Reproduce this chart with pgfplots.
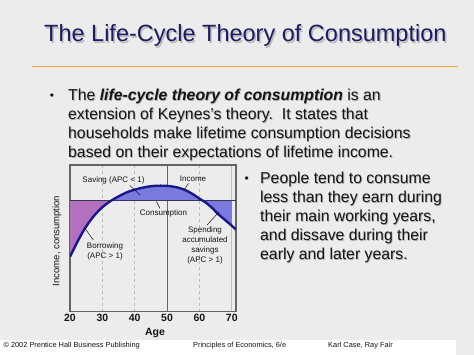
\documentclass[border=0pt]{standalone}
\usepackage{fontspec}
\setmainfont{Liberation Sans}
\usepackage{xcolor}
\usepackage{pgfplots}
\pgfplotsset{compat=1.18}
\usepgfplotslibrary{fillbetween}
\definecolor{bg}{RGB}{236,236,236}
\definecolor{titlec}{RGB}{28,28,100}
\definecolor{orangeline}{RGB}{240,165,55}
\definecolor{incomec}{RGB}{24,24,140}
\definecolor{borrowc}{RGB}{178,112,190}
\definecolor{savec}{RGB}{122,122,222}
\definecolor{txt}{RGB}{20,20,20}
\definecolor{framec}{RGB}{100,100,100}
\pagecolor{bg}
\begin{document}
\begin{tikzpicture}
\begin{scope}[x=1pt,y=-1pt,yshift=355pt]
  \fill[white] (0,340) rectangle (456,355);
  % title
  \node[anchor=base west, text=gray!55, font=\fontsize{23.5}{26}\selectfont, inner sep=0] at (45.4,43.1) {The Life-Cycle Theory of Consumption};
  \node[anchor=base west, text=titlec, font=\fontsize{23.5}{26}\selectfont, inner sep=0] at (44,41.7) {The Life-Cycle Theory of Consumption};
  \draw[orangeline, line width=1.6pt] (32,66.7) -- (458,66.7);
  % body text
  \foreach \yy/\tt in {101/{The \textbf{\textit{life-cycle theory of consumption}} is an},
                       120/{extension of Keynes's theory.\ \ It states that},
                       139/{households make lifetime consumption decisions},
                       158/{based on their expectations of lifetime income.}} {
    \node[anchor=base west, text=gray!60, font=\fontsize{15.8}{18}\selectfont, inner sep=0] at (68.8,\yy+0.8) {\tt};
    \node[anchor=base west, text=txt, font=\fontsize{15.8}{18}\selectfont, inner sep=0] at (68,\yy) {\tt};
  }
  \node[anchor=base, text=txt, font=\fontsize{12}{14}\selectfont, inner sep=0] at (52,99.5) {\textbullet};
  \foreach \yy/\tt in {184/{People tend to consume},
                       203/{less than they earn during},
                       222/{their main working years,},
                       241/{and dissave during their},
                       260/{early and later years.}} {
    \node[anchor=base west, text=gray!60, font=\fontsize{15.8}{18}\selectfont, inner sep=0] at (260.8,\yy+0.8) {\tt};
    \node[anchor=base west, text=txt, font=\fontsize{15.8}{18}\selectfont, inner sep=0] at (260,\yy) {\tt};
  }
  \node[anchor=base, text=txt, font=\fontsize{12}{14}\selectfont, inner sep=0] at (246.7,182.5) {\textbullet};
  % footer
  \node[anchor=base west, text=txt, font=\fontsize{7.4}{8}\selectfont, inner sep=0] at (3.3,348) {\textcopyright\ 2002 Prentice Hall Business Publishing};
  \node[anchor=base west, text=txt, font=\fontsize{7.4}{8}\selectfont, inner sep=0] at (193,348) {Principles of Economics, 6/e};
  \node[anchor=base west, text=txt, font=\fontsize{7.4}{8}\selectfont, inner sep=0] at (328,348) {Karl Case, Ray Fair};
  % axis labels
  \node[rotate=90, text=txt, font=\fontsize{9.5}{11}\selectfont, inner sep=0] at (57,241) {Income, consumption};
  \node[text=txt, font=\fontsize{10.5}{12}\selectfont\bfseries, inner sep=0] at (155,333) {Age};
\end{scope}

\begin{axis}[
  set layers,
  at={(70pt,43.3pt)}, anchor=south west,
  scale only axis, width=166pt, height=146.7pt,
  xmin=20, xmax=71.3, ymin=0, ymax=146.7,
  axis line style={draw=framec, line width=1.4pt},
  xtick={20,30,40,50,60,70}, ytick=\empty,
  major tick length=0pt,
  /pgf/number format/assume math mode=true,
  xticklabel style={font=\fontsize{10.5}{12}\selectfont\bfseries, text=txt, inner sep=2.6pt},
  clip=true,
]
  \begin{pgfonlayer}{axis grid}
  \draw[gray!55, dashed, line width=0.6pt] (axis cs:30,0) -- (axis cs:30,146.7);
  \draw[gray!55, dashed, line width=0.6pt] (axis cs:40,0) -- (axis cs:40,146.7);
  \draw[gray!80!black, line width=0.7pt] (axis cs:50,0) -- (axis cs:50,146.7);
  \draw[gray!55, dashed, line width=0.6pt] (axis cs:60,0) -- (axis cs:60,146.7);
  \draw[gray!50, line width=1.3pt] (axis cs:70,0) -- (axis cs:70,146.7);
  \end{pgfonlayer}

  \addplot[name path=inc, draw=none, smooth] coordinates {
    (20,55) (22,68) (24,80) (26,90) (28,98) (30,104.5) (32,109.5) (34,113.5)
    (36,117) (38,120) (40,122) (42,123.7) (44,125) (46,125.8) (48,126)
    (50,125.8) (52,125) (54,123.5) (56,121) (58,117.5) (60,113) (62,109)
    (64,103.5) (66,97) (68,91.5) (70,86) (71.3,82)
  };
  \addplot[name path=con, draw=none] coordinates {(20,111) (71.3,111)};

  \addplot[fill=borrowc, draw=none] fill between[of=inc and con, soft clip={domain=20:32.75}];
  \addplot[fill=savec, draw=none] fill between[of=inc and con, soft clip={domain=32.75:61}];
  \addplot[fill=savec, draw=none] fill between[of=inc and con, soft clip={domain=61:70}];

  \addplot[draw={rgb,255:red,55;green,55;blue,85}, line width=1.3pt] coordinates {(20,111) (71.3,111)};
  \addplot[draw=incomec, line width=2.4pt, smooth] coordinates {
    (20,55) (22,68) (24,80) (26,90) (28,98) (30,104.5) (32,109.5) (34,113.5)
    (36,117) (38,120) (40,122) (42,123.7) (44,125) (46,125.8) (48,126)
    (50,125.8) (52,125) (54,123.5) (56,121) (58,117.5) (60,113) (62,109)
    (64,103.5) (66,97) (68,91.5) (70,86) (71.3,82)
  };
\end{axis}

\begin{scope}[x=1pt,y=-1pt,yshift=355pt]
  \tikzset{ann/.style={text=txt, font=\fontsize{8}{9.6}\selectfont, inner sep=0, align=center}}
  \node[ann] at (113.5,180) {Saving (APC < 1)};
  \draw[txt, line width=0.5pt] (130,185.5) -- (140,195);
  \node[ann] at (193,179) {Income};
  \draw[txt, line width=0.5pt] (188.5,183.5) -- (184,190);
  \node[ann] at (163.5,213.3) {Consumption};
  \draw[txt, line width=0.5pt] (160,208.5) -- (156.5,201.5);
  \node[ann] at (105,246.5) {Borrowing};
  \node[ann] at (105,256) {(APC > 1)};
  \draw[txt, line width=0.5pt] (93.3,240) -- (84,227);
  \node[ann] at (205,230) {Spending};
  \node[ann] at (205,240) {accumulated};
  \node[ann] at (205,250) {savings};
  \node[ann] at (205,260) {(APC > 1)};
  \draw[txt, line width=0.5pt] (207,225) -- (219,212);
\end{scope}
\pgfresetboundingbox
\path[use as bounding box] (0,0) rectangle (474pt,355pt);
\end{tikzpicture}
\end{document}
